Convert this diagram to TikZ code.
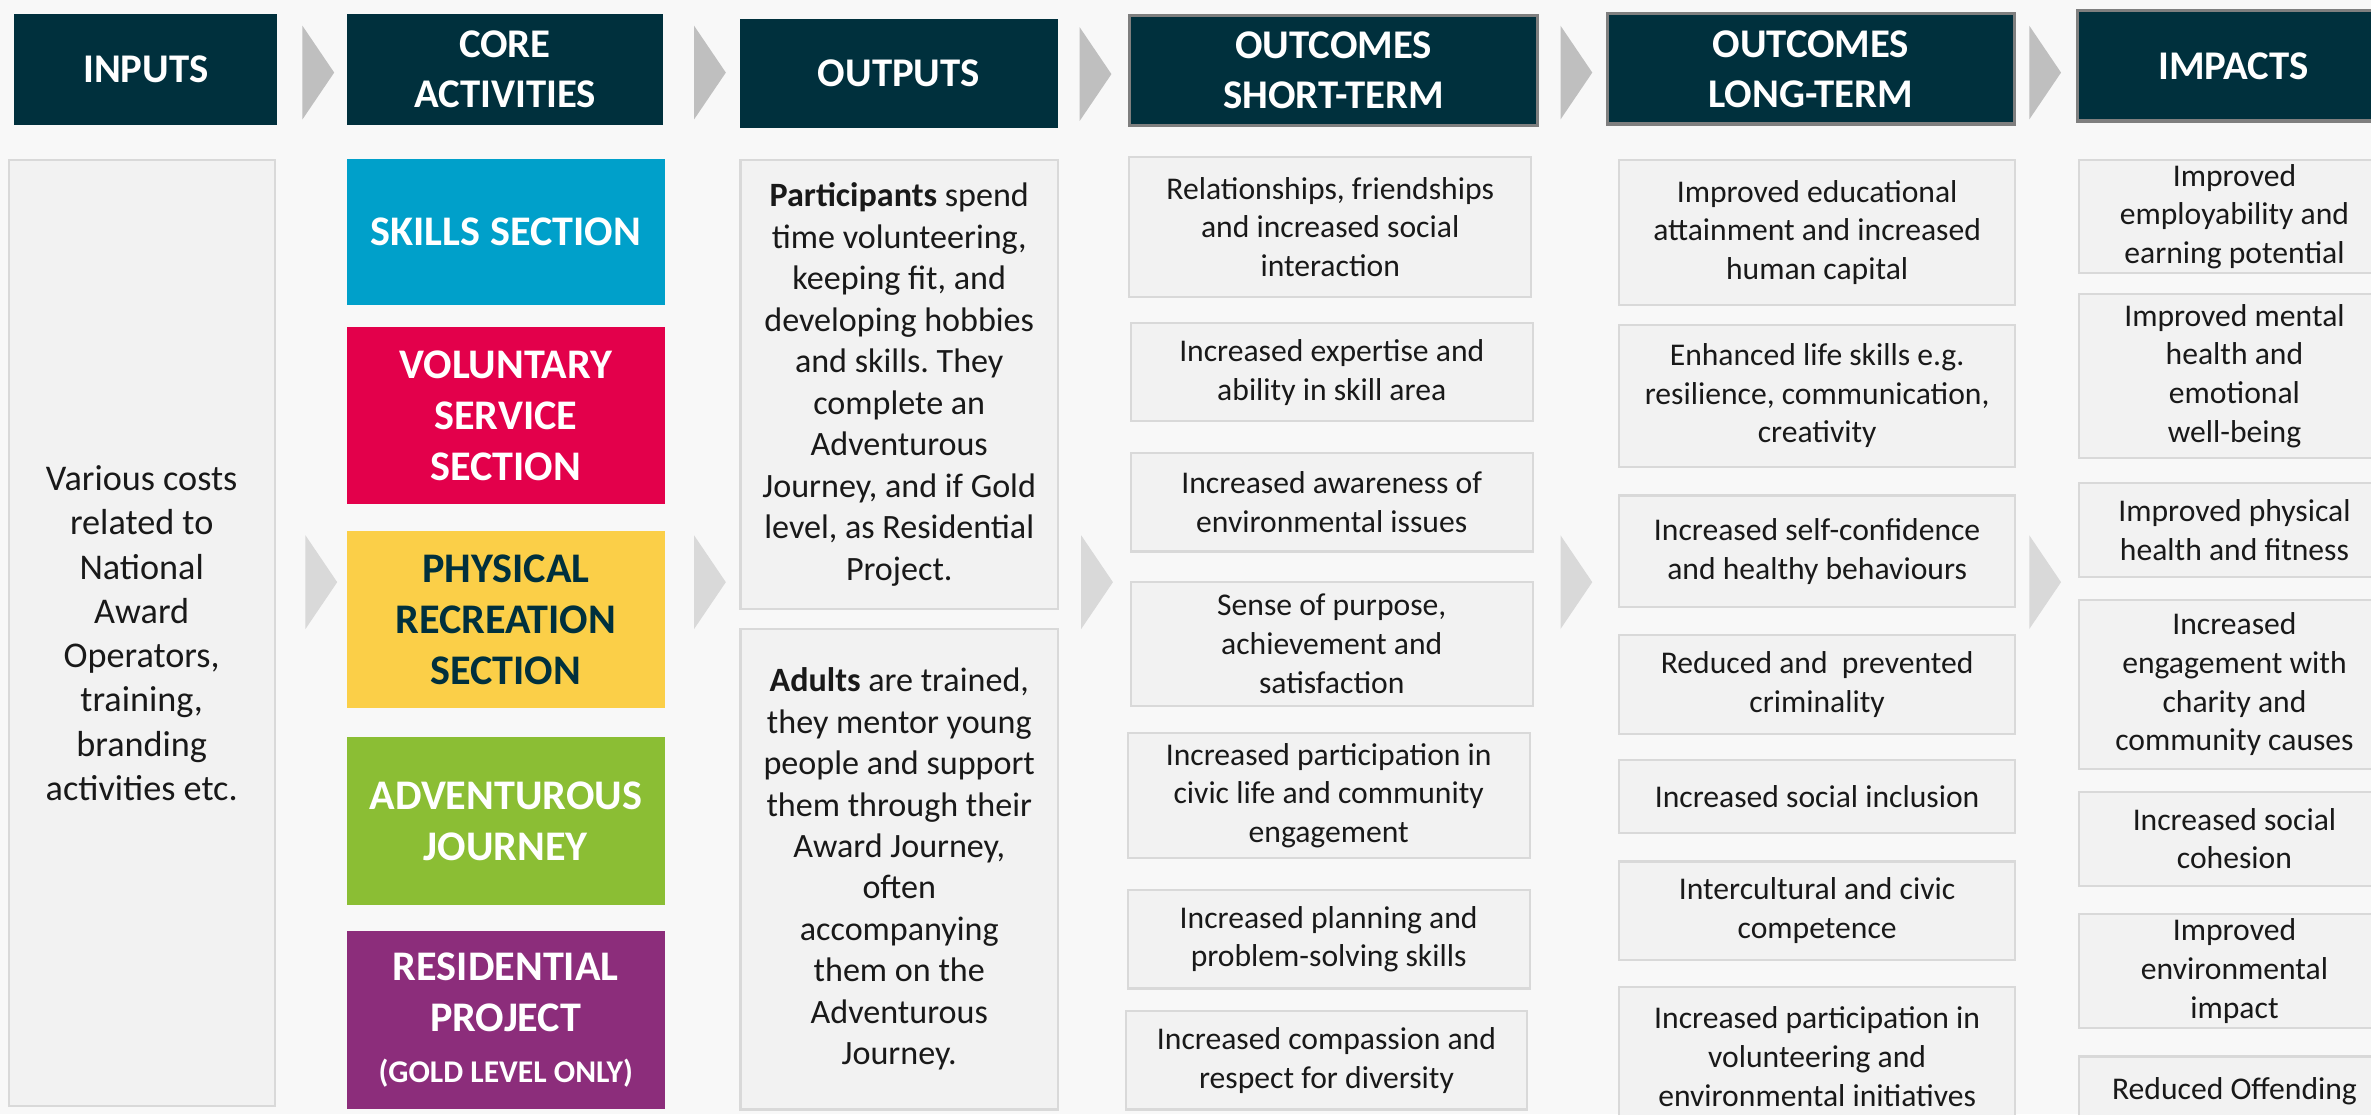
\documentclass[tikz,border=0pt]{standalone}
\usepackage{fontspec}
\setmainfont{Carlito}
\usetikzlibrary{positioning}
\frenchspacing
\definecolor{pagebg}{HTML}{F8F8F8}
\definecolor{hdrteal}{HTML}{00303D}
\definecolor{cardfill}{HTML}{F2F2F2}
\definecolor{cardline}{HTML}{D9D9D9}
\definecolor{hdrline}{HTML}{7F7F7F}
\definecolor{chevdark}{HTML}{BFBFBF}
\definecolor{chevlight}{HTML}{D9D9D9}
\definecolor{skillblue}{HTML}{00A0CA}
\definecolor{volred}{HTML}{E3004B}
\definecolor{physyellow}{HTML}{FBCF48}
\definecolor{advgreen}{HTML}{8BBE34}
\definecolor{respurple}{HTML}{8C2D7B}
\newlength\unitpx
\setlength\unitpx{0.015121cm}
\tikzset{
  dims/.style 2 args={minimum width=#1*\unitpx, minimum height=#2*\unitpx},
  hdr/.style={
    fill=hdrteal, text=white, align=center, inner sep=0pt,
    anchor=north west, font=\bfseries\fontsize{11.6}{14.2}\selectfont
  },
  framed hdr/.style={
    hdr, draw=hdrline, line width=0.9pt
  },
  core/.style={
    fill=#1, text=white, align=center, inner sep=0pt,
    anchor=north west, font=\bfseries\fontsize{12}{14.6}\selectfont
  },
  card/.style={
    fill=cardfill, draw=cardline, line width=0.6pt, align=center,
    inner sep=0pt, anchor=north west, text=black!90,
    font=\fontsize{9}{11}\selectfont
  },
  big card/.style={
    card, font=\fontsize{9.7}{11.8}\selectfont
  },
  chevron/.pic={
    \fill (0,0) -- (21,31) -- (0,62) -- cycle;
  }
}

\begin{document}
\begin{tikzpicture}[x=\unitpx, y=-\unitpx]
    \fill[pagebg] (0,0) rectangle (1568,737);
    \useasboundingbox (0,0) rectangle (1568,737);

    % column heads
    \path{
      node[hdr, dims={174}{73}] (h_in) at (9,9) {INPUTS}
      node[hdr, dims={209}{73}] (h_core) at (229,9) {CORE\\ACTIVITIES}
      node[hdr, dims={210}{72}] (h_out) at (489,12) {OUTPUTS}
      node[framed hdr, dims={270}{73}] (h_short) at (746,9) {OUTCOMES\\SHORT-TERM}
      node[framed hdr, dims={269}{73}] (h_long) at (1062,8) {OUTCOMES\\LONG-TERM}
      node[framed hdr, dims={206}{73}] (h_imp) at (1373,6) {IMPACTS}
    };

    % chevrons between the columns
    \pic[fill=chevdark] at (200,17) {chevron};
    \pic[fill=chevdark] at (459,17) {chevron};
    \pic[fill=chevdark] at (714,18) {chevron};
    \pic[fill=chevdark] at (1032,17) {chevron};
    \pic[fill=chevdark] at (1342,17) {chevron};
    \pic[fill=chevlight] at (202,354) {chevron};
    \pic[fill=chevlight] at (459,354) {chevron};
    \pic[fill=chevlight] at (715,354) {chevron};
    \pic[fill=chevlight] at (1032,354) {chevron};
    \pic[fill=chevlight] at (1342,354) {chevron};

    % inputs and core activities
    \path{
      node[card, dims={176}{626}, font=\fontsize{10.3}{12.6}\selectfont] (inputs) at (5,105)
        {Various costs\\related to\\National\\Award\\Operators,\\training,\\branding\\activities etc.}
      node[core=skillblue, dims={210}{96}] (skills) at (229,105) {SKILLS SECTION}
      node[core=volred, dims={210}{117}] (service) at (229,216) {VOLUNTARY\\SERVICE\\SECTION}
      node[core=physyellow, dims={210}{117}, text=hdrteal] (physical) at (229,351) {PHYSICAL\\RECREATION\\SECTION}
      node[core=advgreen, dims={210}{111}] (journey) at (229,487) {ADVENTUROUS\\JOURNEY}
      node[core=respurple, dims={210}{118}] (resid) at (229,615)
        {RESIDENTIAL\\PROJECT\\{\fontsize{9}{12}\selectfont (GOLD LEVEL ONLY)}}
    };

    % outputs
    \path{
      node[big card, dims={210}{297}] (part) at (489,105)
        {\textbf{Participants} spend\\time volunteering,\\keeping fit, and\\developing hobbies\\and skills. They\\complete an\\Adventurous\\Journey, and if Gold\\level, as Residential\\Project.}
      node[big card, dims={210}{318}] (adults) at (489,415)
        {\textbf{Adults} are trained,\\they mentor young\\people and support\\them through their\\Award Journey,\\often\\accompanying\\them on the\\Adventurous\\Journey.}
    };

    % short-term outcomes
    \path{
      node[card, dims={266}{93}] (st_1) at (746,103) {Relationships, friendships\\and increased social\\interaction}
      node[card, dims={266}{65}] (st_2) at (747,213) {Increased expertise and\\ability in skill area}
      node[card, dims={266}{65}] (st_3) at (747,299) {Increased awareness of\\environmental issues}
      node[card, dims={266}{82}] (st_4) at (747,384) {Sense of purpose,\\achievement and\\satisfaction}
      node[card, dims={266}{83}] (st_5) at (745,484) {Increased participation in\\civic life and community\\engagement}
      node[card, dims={266}{65}] (st_6) at (745,588) {Increased planning and\\problem-solving skills}
      node[card, dims={265}{65}] (st_7) at (744,668) {Increased compassion and\\respect for diversity}
    };

    % long-term outcomes
    \path{
      node[card, dims={262}{96}] (lt_1) at (1070,105) {Improved educational\\attainment and increased\\human capital}
      node[card, dims={262}{94}] (lt_2) at (1070,214) {Enhanced life skills e.g.\\resilience, communication,\\creativity}
      node[card, dims={262}{74}] (lt_3) at (1070,327) {Increased self-confidence\\and healthy behaviours}
      node[card, dims={262}{66}] (lt_4) at (1070,419) {Reduced and\ \ prevented\\criminality}
      node[card, dims={262}{48}] (lt_5) at (1070,502) {Increased social inclusion}
      node[card, dims={262}{65}] (lt_6) at (1070,569) {Intercultural and civic\\competence}
      node[card, dims={262}{92}] (lt_7) at (1070,652) {Increased participation in\\volunteering and\\environmental initiatives}
    };

    % impacts
    \path{
      node[card, dims={206}{75}] (imp_1) at (1374,105) {Improved\\employability and\\earning potential}
      node[card, dims={206}{108}] (imp_2) at (1374,194) {Improved mental\\health and\\emotional\\well-being}
      node[card, dims={206}{62}] (imp_3) at (1374,319) {Improved physical\\health and fitness}
      node[card, dims={206}{112}] (imp_4) at (1374,396) {Increased\\engagement with\\charity and\\community causes}
      node[card, dims={206}{62}] (imp_5) at (1374,523) {Increased social\\cohesion}
      node[card, dims={206}{75}] (imp_6) at (1374,604) {Improved\\environmental\\impact}
      node[card, dims={206}{46}] (imp_7) at (1374,698) {Reduced Offending}
    };
  \end{tikzpicture}
\end{document}
